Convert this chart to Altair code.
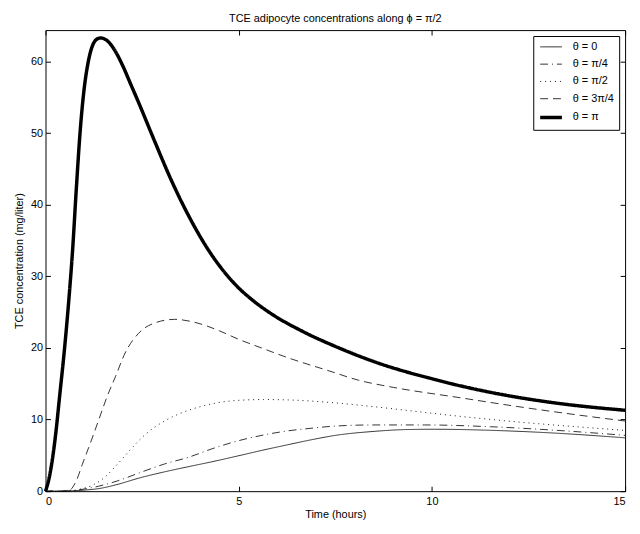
import altair as alt
import pandas as pd

labels = ["θ = 0", "θ = π/4", "θ = π/2", "θ = 3π/4", "θ = π"]

t_0 = [0, 0.5, 1.0, 1.38, 1.9, 2.4, 3.08, 3.68, 4.3, 4.96, 5.6, 6.24, 6.9, 7.51, 8.5, 9.3, 10.07, 11.52, 13.22, 15]
v_0 = [0, 0.02, 0.15, 0.36, 1.0, 1.8, 2.7, 3.4, 4.1, 4.9, 5.7, 6.45, 7.2, 7.8, 8.35, 8.6, 8.65, 8.5, 8.1, 7.45]

t_q = [0, 0.6, 1.0, 1.38, 1.9, 2.4, 3.08, 3.68, 4.3, 4.96, 5.6, 6.24, 6.9, 7.51, 8.5, 9.81, 11.52, 13.22, 15]
v_q = [0, 0.05, 0.3, 0.7, 1.5, 2.5, 3.8, 4.7, 5.9, 7.0, 7.8, 8.4, 8.8, 9.1, 9.25, 9.25, 9.0, 8.5, 7.8]

t_h = [0, 0.6, 0.9, 1.2, 1.5, 1.9, 2.23, 2.6, 3.08, 3.5, 3.94, 4.79, 5.64, 6.5, 7.34, 8.5, 9.81, 11.0, 12.37, 13.5, 15]
v_h = [0, 0, 0.3, 0.8, 1.8, 4.0, 6.0, 8.0, 9.8, 10.9, 11.7, 12.6, 12.8, 12.7, 12.4, 11.8, 11.0, 10.3, 9.6, 9.1, 8.5]

t_3q = [0, 0.57, 0.8, 0.95, 1.2, 1.38, 1.6, 1.81, 2.06, 2.4, 2.83, 3.34, 3.85, 4.5, 4.96, 5.64, 6.24, 7.34, 8.1, 9.0, 10.67, 12.37, 13.7, 15]
v_3q = [0, 0, 1.5, 3.7, 7.3, 10.0, 13.3, 16.0, 19.3, 22.0, 23.5, 24.0, 23.6, 22.4, 21.3, 19.9, 18.7, 16.8, 15.5, 14.5, 13.1, 11.7, 10.7, 9.8]

t_pi = [0, 0.1, 0.27, 0.36, 0.49, 0.6, 0.7, 0.8, 0.9, 1.0, 1.1, 1.2, 1.3, 1.42, 1.6, 1.8, 2.0, 2.2, 2.4, 2.83, 3.25, 3.72, 4.19, 4.6, 4.96, 5.4, 5.81, 6.66, 7.51, 8.5, 10.07, 11.52, 13.22, 15]
v_pi = [0, 2, 8.3, 13, 19.8, 26.5, 33.6, 42.5, 50.5, 56.2, 59.8, 62.0, 63.0, 63.3, 62.9, 61.5, 59.4, 56.9, 54.4, 48.8, 43.5, 38.3, 33.9, 30.8, 28.6, 26.5, 24.9, 22.3, 20.2, 18.1, 15.6, 13.8, 12.3, 11.3]

x_ticks = [0, 5, 10, 15]
y_ticks = [0, 10, 20, 30, 40, 50, 60]

series = [(t_0, v_0), (t_q, v_q), (t_h, v_h), (t_3q, v_3q), (t_pi, v_pi)]
rows = []
for lab, (ts, vs) in zip(labels, series):
    for i, (t, v) in enumerate(zip(ts, vs)):
        rows.append({"series": lab, "t": t, "v": v, "order": i})
df = pd.DataFrame(rows)

FONT = "Liberation Sans"
xs = alt.Scale(domain=[0, 15], nice=False, zero=False)
ys = alt.Scale(domain=[0, 64.4], nice=False, zero=False)

dash_range = [[1, 0], [8, 4, 1, 4], [1, 4], [8, 5], [1, 0]]
width_range = [0.8, 0.8, 0.9, 0.8, 3.5]

base = alt.Chart(df)

lines = base.mark_line(interpolate="monotone", color="black", strokeCap="butt").encode(
    x=alt.X("t:Q", scale=xs,
            axis=alt.Axis(title="Time (hours)", values=x_ticks, orient="bottom", offset=-5,
                          tickSize=5, domain=False, labelPadding=4, titlePadding=3, grid=False)),
    y=alt.Y("v:Q", scale=ys,
            axis=alt.Axis(title="TCE concentration (mg/liter)", values=y_ticks, orient="left",
                          offset=-5, tickSize=5, domain=False, labelPadding=3, titlePadding=6,
                          grid=False)),
    strokeDash=alt.StrokeDash("series:N",
                              scale=alt.Scale(type="ordinal", domain=labels, range=dash_range),
                              legend=alt.Legend(title=None)),
    strokeWidth=alt.StrokeWidth("series:N",
                                scale=alt.Scale(type="ordinal", domain=labels, range=width_range),
                                legend=alt.Legend(title=None)),
    order="order:Q",
)

ghost = base.mark_line(opacity=0).encode(
    x=alt.X("t:Q", scale=xs,
            axis=alt.Axis(title=None, values=x_ticks, orient="top", offset=-5, tickSize=5,
                          domain=False, labels=False, grid=False)),
    y=alt.Y("v:Q", scale=ys,
            axis=alt.Axis(title=None, values=y_ticks, orient="right", offset=-5, tickSize=5,
                          domain=False, labels=False, grid=False)),
    detail="series:N",
    order="order:Q",
)

chart = alt.layer(lines, ghost).resolve_axis(x="independent", y="independent").properties(
    width=587,
    height=467,
    autosize=alt.AutoSizeParams(type="none"),
    padding={"left": 38, "top": 19, "right": 7, "bottom": 40},
    title=alt.Title("TCE adipocyte concentrations along ϕ = π/2", fontSize=11, font=FONT,
                    fontWeight="normal", color="black", anchor="middle", offset=6),
).configure_view(stroke="black", strokeWidth=1).configure_axis(
    labelFont=FONT, titleFont=FONT, labelFontSize=11, titleFontSize=11,
    labelColor="black", titleColor="black", tickColor="black", titleFontWeight="normal",
).configure_legend(
    orient="top-right", offset=6, strokeColor="black", fillColor="white", padding=5,
    symbolType="M-1,0H3", symbolSize=121, symbolStrokeColor="black",
    symbolFillColor="transparent", labelFont=FONT,
    labelFontSize=11, labelColor="black", rowPadding=6.5, labelOffset=20, cornerRadius=0,
)

chart.save("out.html", embed_options={"renderer": "svg", "actions": False})
